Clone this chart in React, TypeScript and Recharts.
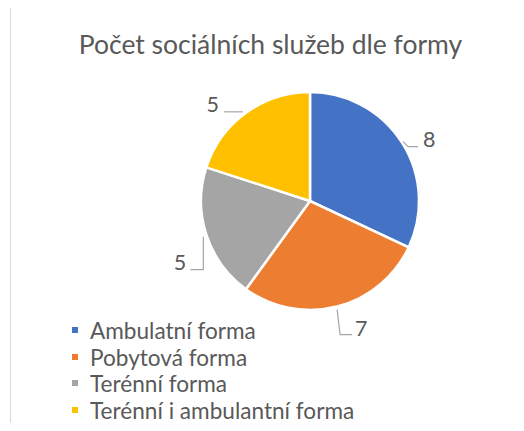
import React from "react";
import { PieChart, Pie, Cell, Legend } from "recharts";

const categories = [
  "Ambulatní forma",
  "Pobytová forma",
  "Terénní forma",
  "Terénní i ambulantní forma",
];
const values = [8, 7, 5, 5];
const colors = ["#4472C4", "#ED7D31", "#A5A5A5", "#FFC000"];
const title = "Počet sociálních služeb dle formy";

const data = categories.map((name, i) => ({ name, value: values[i] }));

const FONT = "Lato, 'Open Sans', sans-serif";
const TEXT = "#595959";
const RAD = Math.PI / 180;

// Leader-line / label layout relative to the slice's outer edge point (style only)
const labelLayout = [
  { line: [[1, -1], [6, 4], [16, 4]], tx: 21, ty: 4, anchor: "start" },
  { line: [[0, 3], [3, 28], [15, 28]], tx: 18, ty: 29, anchor: "start" },
  { line: [[-3, 2], [-3, 35], [-16, 35]], tx: -20, ty: 35, anchor: "end" },
  { line: [[-3, -1], [-22, -1]], tx: -27, ty: -1, anchor: "end" },
];

const renderLabel = (props: any) => {
  const { cx, cy, midAngle, outerRadius, index, value } = props;
  const ex = cx + outerRadius * Math.cos(-midAngle * RAD);
  const ey = cy + outerRadius * Math.sin(-midAngle * RAD);
  const l = labelLayout[index];
  const pts = l.line.map(([dx, dy]) => `${ex + dx},${ey + dy}`).join(" ");
  return (
    <g key={`lbl-${index}`}>
      <polyline points={pts} fill="none" stroke="#A6A6A6" strokeWidth={1.2} />
      <text
        x={ex + l.tx}
        y={ey + l.ty}
        textAnchor={l.anchor}
        fill={TEXT}
        fontFamily={FONT}
        fontSize={21.5}
      >
        {value}
      </text>
    </g>
  );
};

const renderLegend = (props: any) => {
  const { payload } = props;
  return (
    <div style={{ fontFamily: FONT }}>
      {payload.map((p: any, i: number) => (
        <div
          key={i}
          style={{ display: "flex", alignItems: "center", height: 26.6 }}
        >
          <div style={{ width: 6, height: 6, background: p.color, marginTop: -2 }} />
          <span style={{ marginLeft: 12, fontSize: 22.6, color: TEXT, lineHeight: 1 }}>
            {p.value}
          </span>
        </div>
      ))}
    </div>
  );
};

export default function App() {
  return (
    <div
      style={{
        position: "relative",
        width: 524,
        height: 431,
        margin: -8,
        overflow: "hidden",
        background: "#fff",
      }}
    >
      <div
        style={{
          position: "absolute",
          left: 10,
          top: 6,
          width: 700,
          height: 600,
          borderLeft: "1.5px solid #D9D9D9",
          borderTop: "1.5px solid #D9D9D9",
        }}
      />
      <div
        style={{
          position: "absolute",
          left: 0,
          width: 541,
          top: 31,
          textAlign: "center",
          fontFamily: FONT,
          fontSize: 26.5,
          lineHeight: 1,
          color: TEXT,
        }}
      >
        {title}
      </div>
      <div style={{ position: "absolute", left: 0, top: 0 }}>
        <PieChart
          width={524}
          height={431}
          margin={{ top: 0, right: 0, bottom: 0, left: 0 }}
        >
          <Pie
            data={data}
            dataKey="value"
            nameKey="name"
            cx={310}
            cy={201}
            outerRadius={109}
            startAngle={90}
            endAngle={-270}
            stroke="#FFFFFF"
            strokeWidth={2.5}
            label={renderLabel}
            labelLine={false}
            isAnimationActive={false}
          >
            {data.map((d, i) => (
              <Cell key={d.name} fill={colors[i]} />
            ))}
          </Pie>
          <Legend
            content={renderLegend}
            wrapperStyle={{ position: "absolute", left: 72, top: 318, width: 420 }}
          />
        </PieChart>
      </div>
    </div>
  );
}
